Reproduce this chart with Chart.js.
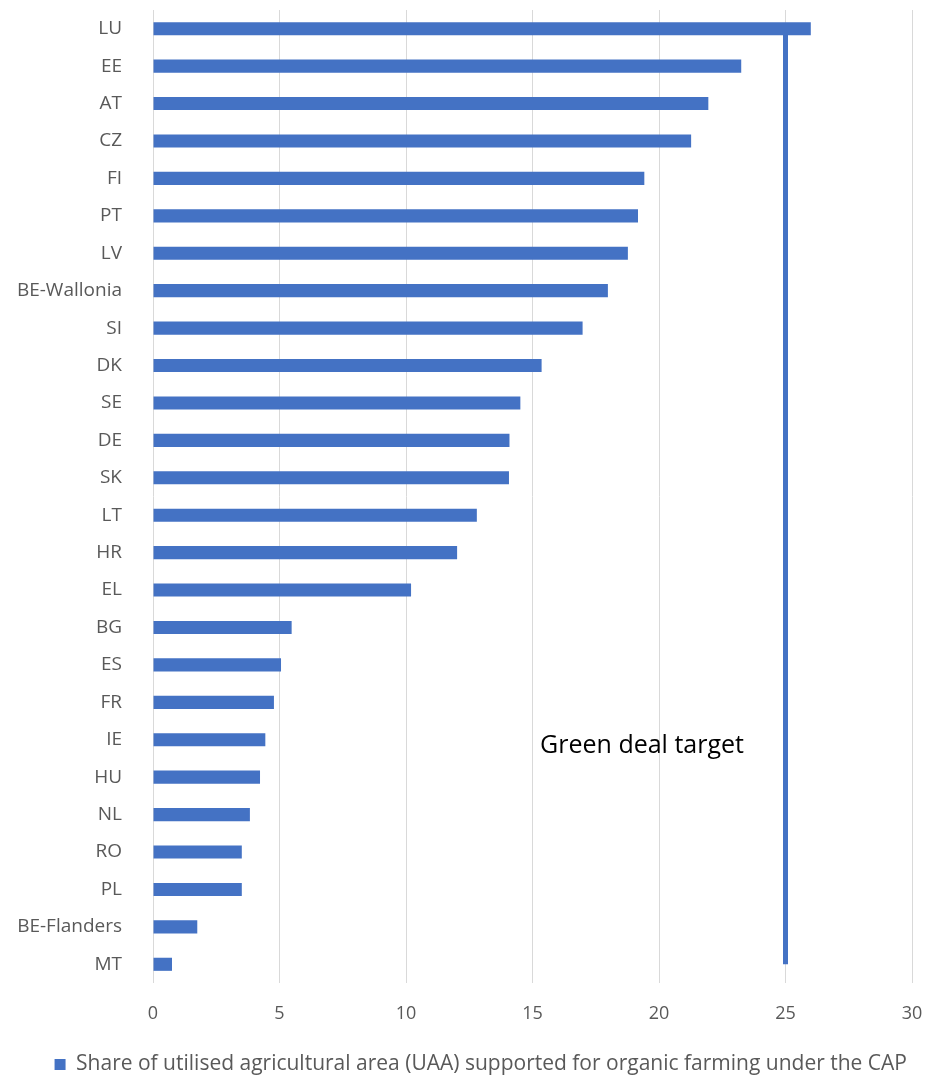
<!DOCTYPE html>
<html>
<head>
<meta charset="utf-8">
<script src="https://cdn.jsdelivr.net/npm/chart.js@4/dist/chart.umd.min.js"></script>
<style>
  html, body { margin: 0; padding: 0; background: #fff; }
  #wrap { width: 928px; height: 1077px; position: relative; }
</style>
</head>
<body>
<div id="wrap"><canvas id="chart"></canvas></div>
<script>
const categories = ["LU", "EE", "AT", "CZ", "FI", "PT", "LV", "BE-Wallonia", "SI", "DK", "SE", "DE", "SK",
  "LT", "HR", "EL", "BG", "ES", "FR", "IE", "HU", "NL", "RO", "PL", "BE-Flanders", "MT"];
const shareValues = [26.0, 23.25, 21.95, 21.27, 19.42, 19.17, 18.77, 17.98, 16.98, 15.36, 14.52, 14.09, 14.07,
  12.8, 12.02, 10.2, 5.48, 5.06, 4.78, 4.44, 4.23, 3.83, 3.51, 3.51, 1.75, 0.75];
const xTicks = [0, 5, 10, 15, 20, 25, 30];
const targetValue = 25;
const targetSpan = ["LU", "MT"];
const targetLabel = "Green deal target";
const seriesLabel = "Share of utilised agricultural area (UAA) supported for organic farming under the CAP";

const BLUE = "#4472C4";
const GRID = "#d9d9d9";
const TEXT = "#595959";
const FONT = "'Open Sans', 'Noto Sans', sans-serif";

// text next to the target line
const targetText = {
  id: "targetText",
  afterDatasetsDraw(chart) {
    const { ctx, scales } = chart;
    const x = scales.x.getPixelForValue(15.3);
    const y = scales.y.getPixelForValue(categories.indexOf("IE")) + 6;
    ctx.save();
    ctx.font = "25px " + FONT;
    ctx.fillStyle = "#000";
    ctx.textBaseline = "middle";
    ctx.fillText(targetLabel, x, y);
    ctx.restore();
  },
};

new Chart(document.getElementById("chart"), {
  data: {
    labels: categories,
    datasets: [
      {
        type: "bar",
        label: seriesLabel,
        data: shareValues,
        backgroundColor: BLUE,
        categoryPercentage: 0.7,
        barPercentage: 0.5,
        order: 1,
      },
      {
        type: "line",
        label: targetLabel,
        data: targetSpan.map((c) => ({ x: targetValue, y: c })),
        borderColor: BLUE,
        borderWidth: 5,
        pointRadius: 0,
        order: 2,
      },
    ],
  },
  options: {
    indexAxis: "y",
    responsive: true,
    maintainAspectRatio: false,
    animation: false,
    layout: { padding: { top: 10, right: 16, left: 0, bottom: -8 } },
    plugins: {
      legend: {
        position: "bottom",
        align: "end",
        labels: {
          filter: (item) => item.datasetIndex === 0,
          boxWidth: 11,
          boxHeight: 11,
          padding: 5,
          color: TEXT,
          font: { family: FONT, size: 21 },
        },
      },
      tooltip: { enabled: false },
    },
    scales: {
      x: {
        type: "linear",
        min: 0,
        max: 30,
        afterBuildTicks: (s) => { s.ticks = xTicks.map((v) => ({ value: v })); },
        grid: { color: GRID, drawTicks: false },
        border: { display: false },
        ticks: { color: TEXT, padding: 20, font: { family: FONT, size: 18 } },
        afterFit: (s) => { s.height = 66; s.paddingLeft = 0; s.paddingRight = 0; },
      },
      y: {
        type: "category",
        grid: { display: false },
        border: { display: false },
        ticks: { color: TEXT, padding: 23, font: { family: FONT, size: 19 } },
        afterFit: (s) => { s.width = 153; s.paddingTop = 0; s.paddingBottom = 0; },
      },
    },
  },
  plugins: [targetText],
});
</script>
</body>
</html>
